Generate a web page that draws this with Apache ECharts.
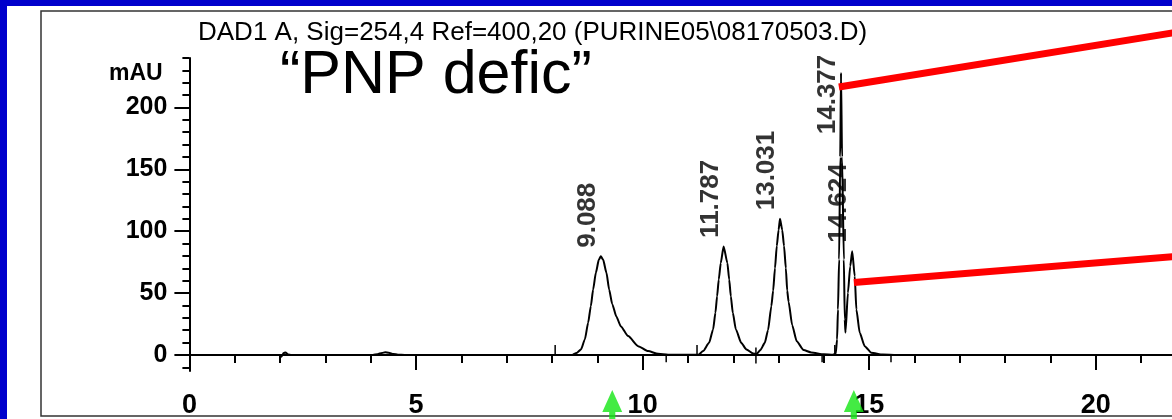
<!DOCTYPE html>
<html>
<head>
<meta charset="utf-8">
<script src="https://cdn.jsdelivr.net/npm/echarts@6/dist/echarts.min.js"></script>
<style>
  html, body { margin: 0; padding: 0; background: #0000cc; width: 1172px; height: 419px; overflow: hidden; }
  #chromChart { position: absolute; left: 7px; top: 6px; width: 1165px; height: 413px; background: #fff; }
</style>
</head>
<body>
<div id="chromChart"></div>
<script>
// trace: [minutes, mAU]
var traceData = [
  [0, 0], [1.9, 0], [1.98, 0], [2.03, -1.5], [2.08, 1.5], [2.12, 2], [2.18, 0.3], [2.25, 0],
  [4.05, 0], [4.15, 0.6], [4.25, 1.6], [4.32, 2.1], [4.4, 1.7], [4.5, 0.8], [4.6, 0.2], [4.75, 0],
  [8.45, 0], [8.54, 1.5], [8.64, 4.4], [8.725, 12.5], [8.798, 26], [8.857, 39.4], [8.908, 52.8],
  [8.968, 66.3], [9.034, 77], [9.078, 79.7], [9.128, 77], [9.202, 66.3], [9.261, 52.8], [9.33, 41],
  [9.42, 31], [9.52, 23], [9.68, 15.2], [9.901, 7.1], [10.12, 3.1], [10.34, 0.9], [10.56, 0.2], [11.2, 0.1],
  [11.24, 0.4], [11.334, 3.1], [11.467, 9.8], [11.555, 20.6], [11.606, 34], [11.643, 47.4], [11.68, 60.9],
  [11.724, 74.3], [11.787, 87.7], [11.87, 74.3], [11.91, 60.9], [11.946, 47.4], [11.99, 34], [12.057, 20.6],
  [12.175, 9.8], [12.29, 4.4], [12.44, 1.2], [12.51, 0.6],
  [12.6, 4], [12.695, 9.8], [12.767, 20], [12.84, 39.4], [12.88, 52], [12.92, 70], [12.96, 88], [13.0, 101],
  [13.031, 110], [13.08, 101], [13.12, 88], [13.16, 70], [13.19, 52], [13.22, 43], [13.3, 24], [13.4, 11],
  [13.55, 4], [13.72, 2], [14.0, 0.5], [14.2, 0.2],
  [14.26, 1], [14.29, 12.5], [14.31, 36.7], [14.335, 77], [14.36, 160], [14.377, 228], [14.4, 160],
  [14.44, 77], [14.46, 28.6], [14.475, 18], [14.53, 50.2], [14.58, 71.6], [14.624, 83.7], [14.68, 63.6],
  [14.716, 36.7], [14.79, 17.9], [14.9, 7.1], [15.045, 1.8], [15.3, 0.3], [15.6, 0], [21.68, 0]
];

var peakTimes = [9.088, 11.787, 13.031, 14.377, 14.624];
var peakHeights = [79.7, 87.7, 110, 228, 83.7];
var peakLabels = ['9.088', '11.787', '13.031', '14.377', '14.624'];

// integration marks on the baseline: [minutes, from mAU, to mAU]
var eventTicks = [[8.07, 0, 8], [10.52, 0, -6], [11.2, 0, 8], [12.5, 6, -7], [13.96, 0, -6], [14.24, 0, 8], [15.48, 0, -6]];

// red pointer lines (start, end) and green arrows
var pointerUpper = [[14.33, 216.5], [22, 262]];
var pointerLower = [[14.66, 58.5], [22, 80.3]];
var arrowTimes = [9.33, 14.66];

var xMajor = [0, 5, 10, 15, 20];
var xMinor = [1, 2, 3, 4, 6, 7, 8, 9, 11, 12, 13, 14, 16, 17, 18, 19, 21];
var yMajor = [0, 50, 100, 150, 200];
var yMinor = [-10, 10, 20, 30, 40, 60, 70, 80, 90, 110, 120, 130, 140, 160, 170, 180, 190, 210, 220, 230, 240];

var chart = echarts.init(document.getElementById('chromChart'));
var fontFam = '"Liberation Sans", Arial, sans-serif';

var labelData = peakTimes.map(function (t, i) {
  var item = { value: [t, peakHeights[i]], name: peakLabels[i] };
  if (peakLabels[i] === '14.377') {
    // label sits lower, beside the spike
    item.label = { offset: [-70, 0] };
  }
  return item;
});

var option = {
  animation: false,
  title: [
    {
      text: 'DAD1 A, Sig=254,4 Ref=400,20 (PURINE05\\08170503.D)',
      left: 191, top: 14, padding: 0,
      textStyle: { fontFamily: fontFam, fontSize: 26, fontWeight: 'normal', color: '#000' }
    },
    {
      text: '\u201CPNP defic\u201D',
      left: 273, top: 40, padding: 0,
      textStyle: { fontFamily: fontFam, fontSize: 61, fontWeight: 'normal', color: '#000' }
    },
    {
      text: 'mAU',
      left: 102, top: 56, padding: 0,
      textStyle: { fontFamily: fontFam, fontSize: 23, fontWeight: 'bold', color: '#000' }
    }
  ],
  graphic: [
    {
      type: 'rect',
      shape: { x: 34, y: 5, width: 1200, height: 405 },
      style: { fill: 'none', stroke: '#333', lineWidth: 1.5 },
      z: -1
    }
  ],
  grid: { left: 182.4, top: 51.9, right: 0, bottom: 47 },
  xAxis: [
    {
      type: 'value', position: 'bottom', min: 0, max: 21.68,
      axisLine: { lineStyle: { color: '#000', width: 2 } },
      axisTick: { customValues: xMajor, length: 15, lineStyle: { color: '#000', width: 2 } },
      axisLabel: { customValues: xMajor, margin: 21, color: '#000', fontSize: 27, fontWeight: 'bold', fontFamily: fontFam },
      splitLine: { show: false }
    },
    {
      type: 'value', position: 'bottom', min: 0, max: 21.68,
      axisLine: { show: false },
      axisTick: { customValues: xMinor, length: 8, lineStyle: { color: '#000', width: 2 } },
      axisLabel: { show: false },
      splitLine: { show: false }
    }
  ],
  yAxis: [
    {
      type: 'value', position: 'left', min: -13, max: 240,
      axisLine: { show: true, lineStyle: { color: '#000', width: 2 } },
      axisTick: { show: true, customValues: yMajor, length: 15, lineStyle: { color: '#000', width: 2 } },
      axisLabel: { customValues: yMajor, margin: 22, color: '#000', fontSize: 25, fontWeight: 'bold', fontFamily: fontFam },
      splitLine: { show: false }
    },
    {
      type: 'value', position: 'left', min: -13, max: 240,
      axisLine: { show: false },
      axisTick: { show: true, customValues: yMinor, length: 7, lineStyle: { color: '#000', width: 2 } },
      axisLabel: { show: false },
      splitLine: { show: false }
    }
  ],
  series: [
    {
      name: 'DAD1 A',
      type: 'line',
      data: traceData,
      showSymbol: false,
      smooth: 0.2,
      smoothMonotone: 'x',
      lineStyle: { color: '#000', width: 2 },
      z: 3
    },
    {
      name: 'events',
      type: 'custom',
      data: eventTicks,
      renderItem: function (params, api) {
        var p1 = api.coord([api.value(0), api.value(1)]);
        var p2 = api.coord([api.value(0), api.value(2)]);
        return {
          type: 'line',
          shape: { x1: p1[0], y1: p1[1], x2: p2[0], y2: p2[1] },
          style: { stroke: '#000', lineWidth: 1.5 }
        };
      },
      z: 3
    },
    {
      name: 'peak labels',
      type: 'scatter',
      data: labelData,
      symbolSize: 1,
      itemStyle: { color: 'rgba(0,0,0,0)' },
      label: {
        show: true,
        formatter: function (p) { return p.name; },
        position: 'top',
        rotate: 90,
        align: 'left',
        verticalAlign: 'bottom',
        distance: 8,
        color: '#000',
        fontSize: 26,
        fontWeight: 'bold',
        fontFamily: fontFam
      },
      z: 4
    },
    {
      name: 'pointer upper',
      type: 'line',
      data: pointerUpper,
      showSymbol: false,
      clip: false,
      lineStyle: { color: '#ff0000', width: 7 },
      z: 6
    },
    {
      name: 'pointer lower',
      type: 'line',
      data: pointerLower,
      showSymbol: false,
      clip: false,
      lineStyle: { color: '#ff0000', width: 7 },
      z: 6
    },
    {
      name: 'arrows',
      type: 'scatter',
      data: arrowTimes.map(function (t) { return [t, -42]; }),
      symbol: 'path://M13,0 L26,22 L17,22 L17,34 L9,34 L9,22 L0,22 Z',
      symbolSize: [26, 34],
      symbolKeepAspect: true,
      clip: false,
      itemStyle: { color: '#14e614' },
      z: 6
    }
  ]
};

chart.setOption(option);
</script>
</body>
</html>
